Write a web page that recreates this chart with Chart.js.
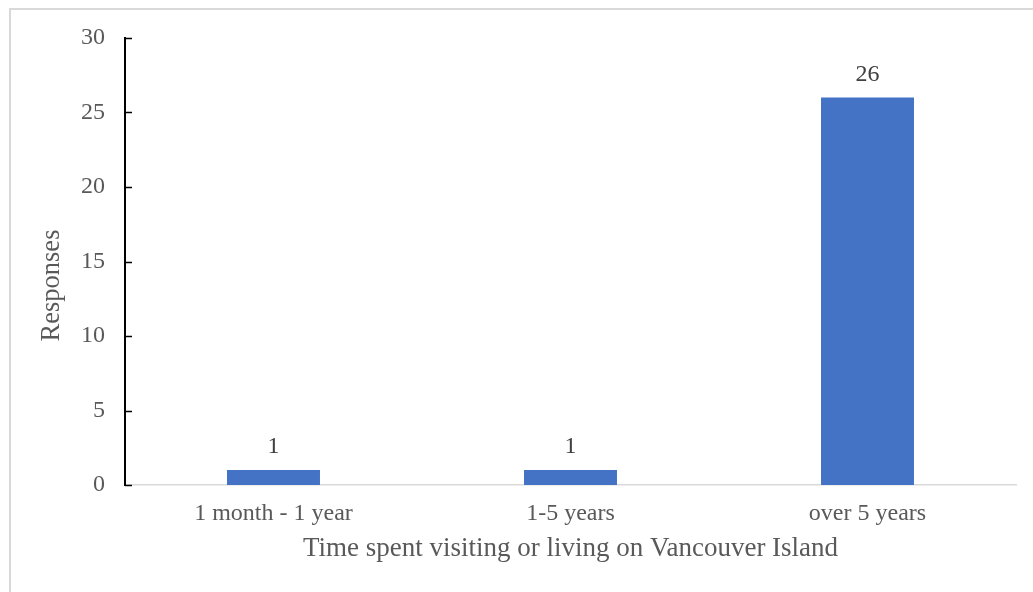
<!DOCTYPE html>
<html>
<head>
<meta charset="utf-8">
<script src="https://cdn.jsdelivr.net/npm/chart.js@4/dist/chart.umd.min.js"></script>
<style>
  html, body { margin: 0; padding: 0; background: #fff; overflow: hidden; }
  #wrap { position: relative; width: 1033px; height: 592px; }
  #frame { position: absolute; left: 9px; top: 8px; width: 1040px; height: 600px; border: 2px solid #d9d9d9; box-sizing: border-box; }
  canvas { position: absolute; left: 0; top: 0; }
</style>
</head>
<body>
<div id="wrap">
  <div id="frame"></div>
  <canvas id="durationChart" width="1033" height="592"></canvas>
</div>
<script>
const categories = ['1 month - 1 year', '1-5 years', 'over 5 years'];
const responses = [1, 1, 26];
const yTicks = [0, 5, 10, 15, 20, 25, 30];
const yTitle = 'Responses';

const serif = "'Liberation Serif', 'Times New Roman', serif";

// short tick marks on the inner side of the y axis, like the original
const innerTicks = {
  id: 'innerTicks',
  afterDraw(chart) {
    const ctx = chart.ctx;
    const y = chart.scales.y;
    const left = chart.chartArea.left;
    ctx.save();
    ctx.strokeStyle = '#000';
    ctx.lineWidth = 1.5;
    yTicks.forEach(v => {
      const py = Math.round(y.getPixelForValue(v)) + 0.5;
      ctx.beginPath();
      ctx.moveTo(left, py);
      ctx.lineTo(left + 7, py);
      ctx.stroke();
    });
    ctx.restore();
  }
};

// y title sits a bit lower than the axis middle in the original
const sideTitle = {
  id: 'sideTitle',
  afterDraw(chart) {
    const ctx = chart.ctx;
    const area = chart.chartArea;
    ctx.save();
    ctx.translate(52, (area.top + area.bottom) / 2 + 24);
    ctx.rotate(-Math.PI / 2);
    ctx.font = '26.5px ' + serif;
    ctx.fillStyle = '#595959';
    ctx.textAlign = 'center';
    ctx.textBaseline = 'middle';
    ctx.fillText(yTitle, 0, 0);
    ctx.restore();
  }
};

// value labels over each bar
const barLabels = {
  id: 'barLabels',
  afterDatasetsDraw(chart) {
    const ctx = chart.ctx;
    const meta = chart.getDatasetMeta(0);
    ctx.save();
    ctx.font = '24px ' + serif;
    ctx.fillStyle = '#404040';
    ctx.textAlign = 'center';
    ctx.textBaseline = 'alphabetic';
    meta.data.forEach((bar, i) => {
      ctx.fillText(String(responses[i]), bar.x, bar.y - 17);
    });
    ctx.restore();
  }
};

new Chart(document.getElementById('durationChart'), {
  type: 'bar',
  data: {
    labels: categories,
    datasets: [{
      label: 'Responses',
      data: responses,
      backgroundColor: '#4472C4',
      borderWidth: 0,
      categoryPercentage: 1,
      barPercentage: 0.313
    }]
  },
  options: {
    responsive: false,
    animation: false,
    layout: { padding: { left: 0, top: 38, right: 17, bottom: 0 } },
    plugins: {
      legend: { display: false },
      tooltip: { enabled: false }
    },
    scales: {
      x: {
        afterFit(scale) { scale.height = 107; },
        grid: { display: false, drawTicks: false },
        border: { display: true, color: '#d9d9d9', width: 1.5 },
        ticks: {
          padding: 14,
          color: '#595959',
          font: { family: serif, size: 24 }
        },
        title: {
          display: true,
          text: 'Time spent visiting or living on Vancouver Island',
          color: '#595959',
          font: { family: serif, size: 27 },
          padding: { top: 0, bottom: 27 }
        }
      },
      y: {
        min: 0,
        max: 30,
        afterFit(scale) { scale.width = 125; },
        afterBuildTicks(scale) { scale.ticks = yTicks.map(v => ({ value: v })); },
        grid: { display: false, drawTicks: false },
        border: { display: true, color: '#000', width: 2, z: 1 },
        ticks: {
          padding: 20,
          color: '#595959',
          font: { family: serif, size: 24 }
        },
        title: { display: false }
      }
    }
  },
  plugins: [innerTicks, sideTitle, barLabels]
});
</script>
</body>
</html>
